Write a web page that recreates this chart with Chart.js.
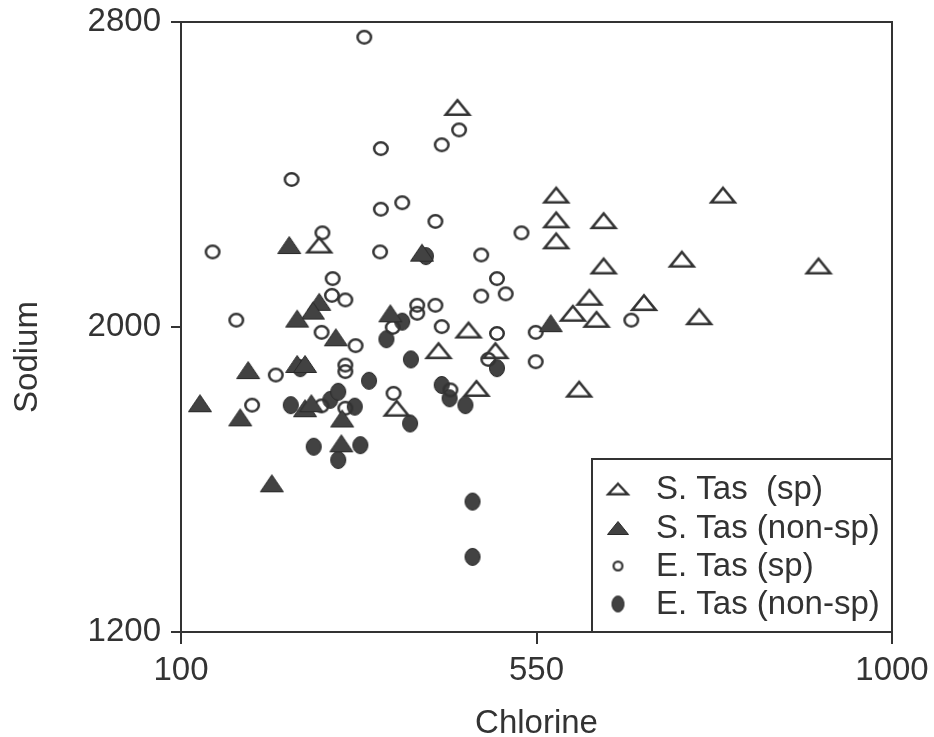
<!DOCTYPE html>
<html><head><meta charset="utf-8">
<script src="https://cdn.jsdelivr.net/npm/chart.js@4.4.0/dist/chart.umd.min.js"></script>
<style>html,body{margin:0;padding:0;background:#fff}</style>
</head><body>
<canvas id="c" width="934" height="737"></canvas>
<script>
// ---- data (Chlorine = x, Sodium = y) ----
const seriesLabels = ['S. Tas  (sp)', 'S. Tas (non-sp)', 'E. Tas (sp)', 'E. Tas (non-sp)'];
const xTitle = 'Chlorine';
const yTitle = 'Sodium';
const xTicks = [100, 550, 1000];
const yTicks = [1200, 2000, 2800];

const sTasSpCl = [450,575,786,575,635,575,635,734,907,617,686,596,626,756,275,464,426,498,373,474,604];
const sTasSpNa = [2576,2346,2346,2281,2279,2226,2160,2178,2160,2078,2064,2036,2020,2027,2215,1992,1938,1938,1787,1839,1837];

const sTasNonCl = [237,405,275,267,247,365,568,296,185,247,257,124,175,257,265,304,303,215];
const sTasNonNa = [2215,2195,2066,2043,2022,2036,2010,1973,1887,1903,1903,1800,1763,1787,1800,1760,1695,1590];

const eTasSpCl = [332,452,430,353,240,353,380,422,531,140,279,352,480,500,511,480,292,291,308,170,399,399,422,430,500,278,321,368,489,549,549,670,220,308,308,190,278,308,369,441];
const eTasSpNa = [2760,2517,2478,2468,2387,2309,2326,2277,2247,2197,2247,2197,2189,2127,2087,2081,2127,2083,2071,2018,2057,2036,2057,2001,1983,1986,1951,1999,1915,1986,1909,2018,1874,1900,1883,1795,1793,1787,1826,1835];

const eTasNonCl = [410,380,360,391,500,251,338,239,289,299,320,390,430,440,460,268,327,299,469,469];
const eTasNonNa = [2186,2014,1968,1915,1892,1892,1859,1795,1809,1830,1791,1747,1848,1813,1795,1686,1690,1651,1542,1397];

// ---- styles ----
const INK = '#333333';
const FILL = '#424242';
const FONT = '"Liberation Sans", Arial, Helvetica, sans-serif';
const FS = 33;

function mk(w, h, draw) {
  const c = document.createElement('canvas');
  c.width = w; c.height = h;
  draw(c.getContext('2d'), w, h);
  return c;
}
function triangle(w, h, filled, lw) {
  const m = 2;
  return mk(w + 2*m, h + 2*m, (g) => {
    const i = filled ? 0.5 : lw / 2;
    g.beginPath();
    g.moveTo(m + w/2, m + i);
    g.lineTo(m + w - i, m + h - i);
    g.lineTo(m + i, m + h - i);
    g.closePath();
    if (filled) { g.fillStyle = FILL; g.fill(); g.lineWidth = 1; g.strokeStyle = '#2a2a2a'; g.stroke(); }
    else { g.lineJoin = 'miter'; g.lineWidth = lw; g.strokeStyle = INK; g.stroke(); }
  });
}
function ellipse(w, h, filled, lw) {
  const m = 2;
  return mk(w + 2*m, h + 2*m, (g) => {
    const i = filled ? 0.5 : lw / 2;
    g.beginPath();
    g.ellipse(m + w/2, m + h/2, w/2 - i, h/2 - i, 0, 0, Math.PI*2);
    if (filled) { g.fillStyle = FILL; g.fill(); g.lineWidth = 1; g.strokeStyle = '#2a2a2a'; g.stroke(); }
    else { g.lineWidth = lw; g.strokeStyle = INK; g.stroke(); }
  });
}

const plotMarkers = [triangle(26, 17, false, 2.6), triangle(24, 18, true), ellipse(16, 15, false, 2.5), ellipse(16, 18, true)];
const legendMarkers = [triangle(22, 13, false, 2.4), triangle(22, 14, true), ellipse(11, 11, false, 2.2), ellipse(13, 17, true)];

const toPts = (xs, ys) => xs.map((x, i) => ({x: x, y: ys[i]}));
const seriesData = [
  toPts(sTasSpCl, sTasSpNa),
  toPts(sTasNonCl, sTasNonNa),
  toPts(eTasSpCl, eTasSpNa),
  toPts(eTasNonCl, eTasNonNa)
];

const datasets = seriesData.map((d, i) => ({
  label: seriesLabels[i],
  data: d,
  pointStyle: plotMarkers[i],
  pointRadius: 8,
  showLine: false
}));

const framePlugin = {
  id: 'frameAndLegend',
  afterDraw(chart) {
    const {ctx, chartArea: a} = chart;
    ctx.save();
    ctx.strokeStyle = INK; ctx.lineWidth = 2;
    ctx.beginPath();
    ctx.moveTo(a.left - 1, a.top); ctx.lineTo(a.right, a.top); ctx.lineTo(a.right, a.bottom + 1);
    ctx.stroke();
    // legend box inside plot area (bottom-right)
    const lx = 592, ly = 459;
    ctx.beginPath();
    ctx.moveTo(lx, a.bottom); ctx.lineTo(lx, ly); ctx.lineTo(a.right, ly);
    ctx.stroke();
    const rows = [489, 528, 566, 604];
    ctx.fillStyle = INK;
    ctx.font = FS + 'px ' + FONT;
    ctx.textAlign = 'left';
    ctx.textBaseline = 'middle';
    seriesLabels.forEach((lab, i) => {
      const m = legendMarkers[i];
      ctx.drawImage(m, 618 - m.width/2, rows[i] - m.height/2);
      ctx.fillText(lab, 656, rows[i] + 1);
    });
    // axis titles
    ctx.textAlign = 'center';
    ctx.textBaseline = 'alphabetic';
    ctx.fillText(xTitle, (a.left + a.right) / 2, 733);
    ctx.translate(37, 357);
    ctx.rotate(-Math.PI / 2);
    ctx.fillText(yTitle, 0, 0);
    ctx.restore();
  }
};

new Chart(document.getElementById('c'), {
  type: 'scatter',
  data: { datasets: datasets },
  options: {
    responsive: false,
    animation: false,
    layout: { padding: { top: 22, right: 42, left: 0, bottom: 0 } },
    plugins: { legend: { display: false }, tooltip: { enabled: false } },
    scales: {
      x: {
        type: 'linear', min: 100, max: 1000,
        afterBuildTicks: (s) => { s.ticks = xTicks.map(v => ({ value: v })); },
        afterFit: (s) => { s.height = 105; s.paddingLeft = 0; s.paddingRight = 0; },
        grid: { display: true, drawOnChartArea: false, drawTicks: true, tickLength: 12, color: INK, lineWidth: 2 },
        border: { display: true, color: INK, width: 2 },
        ticks: { color: INK, font: { family: FONT, size: FS }, padding: 7, maxRotation: 0, autoSkip: false,
                 callback: (v) => String(v) }
      },
      y: {
        type: 'linear', min: 1200, max: 2800,
        afterBuildTicks: (s) => { s.ticks = yTicks.map(v => ({ value: v })); },
        afterFit: (s) => { s.width = 181; s.paddingTop = 0; s.paddingBottom = 0; },
        grid: { display: true, drawOnChartArea: false, drawTicks: true, tickLength: 10, color: INK, lineWidth: 2 },
        border: { display: true, color: INK, width: 2 },
        ticks: { color: INK, font: { family: FONT, size: FS }, padding: 10, autoSkip: false,
                 callback: (v) => String(v) }
      }
    }
  },
  plugins: [framePlugin]
});
</script>
</body></html>
